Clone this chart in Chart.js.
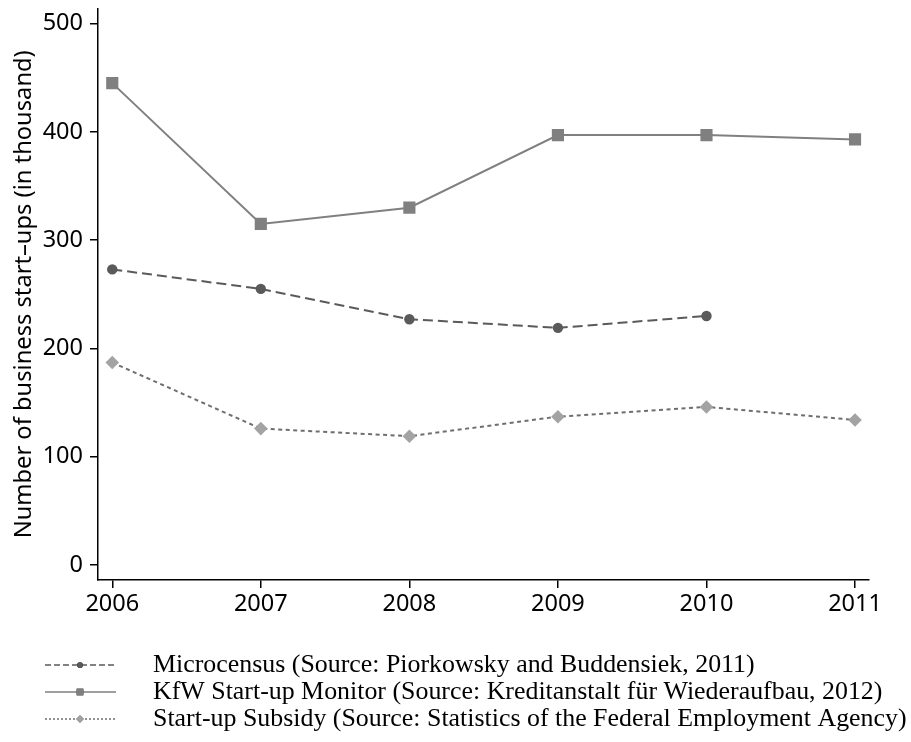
<!DOCTYPE html>
<html>
<head>
<meta charset="utf-8">
<script src="https://cdn.jsdelivr.net/npm/chart.js@4.4.0/dist/chart.umd.min.js"></script>
<style>
html,body{margin:0;padding:0;background:#fff;}
#wrap{position:relative;width:911px;height:742px;}
</style>
</head>
<body>
<div id="wrap"><canvas id="c" width="911" height="742"></canvas></div>
<script>
const years = [2006, 2007, 2008, 2009, 2010, 2011];
const microcensus = [273, 255, 227, 219, 230, null];
const kfw = [445, 315, 330, 397, 397, 393];
const subsidy = [187, 126, 119, 137, 146, 134];
const yTicks = [0, 100, 200, 300, 400, 500];
const seriesLabels = [
  'Microcensus (Source: Piorkowsky and Buddensiek, 2011)',
  'KfW Start-up Monitor (Source: Kreditanstalt für Wiederaufbau, 2012)',
  'Start-up Subsidy (Source: Statistics of the Federal Employment Agency)'
];
const yTitle = 'Number of business start–ups (in thousand)';

const toPts = arr => years.map((yr, i) => ({x: yr, y: arr[i]}));
const SANS = "'Noto Sans', sans-serif";

const legendPlugin = {
  id: 'bottomLegend',
  afterDraw(chart) {
    const ctx = chart.ctx;
    const ds = chart.data.datasets;
    const rows = [665, 692, 719];
    ctx.save();
    let fs = 20;
    ctx.font = fs + "px 'Liberation Serif', serif";
    const w = ctx.measureText(seriesLabels[2]).width;
    fs = fs * 754 / w;
    ctx.font = fs + "px 'Liberation Serif', serif";
    ds.forEach((d, i) => {
      const y = rows[i];
      ctx.strokeStyle = d.borderColor;
      ctx.lineWidth = 1.5;
      ctx.setLineDash(i === 0 ? [6, 3] : (i === 2 ? [2, 2] : []));
      ctx.beginPath(); ctx.moveTo(45, y); ctx.lineTo(116, y); ctx.stroke();
      ctx.setLineDash([]);
      Chart.helpers.drawPoint(ctx, {pointStyle: d.pointStyle, radius: d.pointRadius * 0.55, borderWidth: 0}, 80, y);
      ctx.fillStyle = d.pointBackgroundColor;
      ctx.fill();
      ctx.fillStyle = '#000';
      ctx.textBaseline = 'middle';
      ctx.textAlign = 'left';
      ctx.fillText(seriesLabels[i], 153, y);
    });
    ctx.restore();
  }
};

new Chart(document.getElementById('c'), {
  type: 'line',
  data: {
    datasets: [
      {
        label: seriesLabels[0], data: toPts(microcensus),
        borderColor: '#5a5a5a', borderWidth: 2, borderDash: [10, 5],
        pointStyle: 'circle', pointRadius: 5.2, pointBackgroundColor: '#5a5a5a', pointBorderWidth: 0,
        spanGaps: false
      },
      {
        label: seriesLabels[1], data: toPts(kfw),
        borderColor: '#808080', borderWidth: 2,
        pointStyle: 'rect', pointRadius: 8.6, pointBackgroundColor: '#808080', pointBorderWidth: 0
      },
      {
        label: seriesLabels[2], data: toPts(subsidy),
        borderColor: '#6e6e6e', borderWidth: 2, borderDash: [4, 3.5],
        pointStyle: 'rectRot', pointRadius: 6.8, pointBackgroundColor: '#a3a3a3', pointBorderWidth: 0
      }
    ]
  },
  options: {
    responsive: false,
    animation: false,
    events: [],
    layout: {padding: {top: 8, right: 42, bottom: 112, left: 0}},
    plugins: {legend: {display: false}, tooltip: {enabled: false}},
    scales: {
      x: {
        type: 'linear', min: 2005.904, max: 2011.094,
        afterBuildTicks: s => { s.ticks = years.map(v => ({value: v})); },
        afterFit: s => { s.height = 50; s.paddingLeft = 0; s.paddingRight = 0; },
        grid: {display: true, drawOnChartArea: false, drawTicks: true, tickLength: 8, color: '#000', lineWidth: 1.5},
        border: {display: true, color: '#000', width: 1.5},
        ticks: {color: '#000', font: {family: SANS, size: 23.5}, padding: 2, callback: v => String(v), maxRotation: 0, autoSkip: false}
      },
      y: {
        min: -13.8, max: 513.8,
        afterBuildTicks: s => { s.ticks = yTicks.map(v => ({value: v})); },
        afterFit: s => { s.width = 98; s.paddingTop = 0; s.paddingBottom = 0; },
        grid: {display: true, drawOnChartArea: false, drawTicks: true, tickLength: 8, color: '#000', lineWidth: 1.5},
        border: {display: true, color: '#000', width: 1.5},
        title: {display: true, text: yTitle, color: '#000', font: {family: SANS, size: 23.7}, padding: {top: 10, bottom: 0}},
        ticks: {color: '#000', font: {family: SANS, size: 23.5}, padding: 7, callback: v => String(v)}
      }
    }
  },
  plugins: [legendPlugin]
});
</script>
</body>
</html>
